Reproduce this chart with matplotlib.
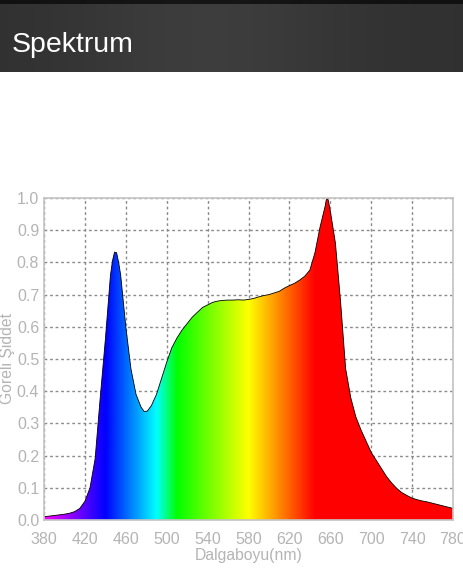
import numpy as np
import matplotlib
matplotlib.use('Agg')
import matplotlib.pyplot as plt
from matplotlib.patches import Polygon

plt.rcParams['font.family'] = ['Liberation Sans', 'DejaVu Sans']

## spectrum (relative intensity)
wl = [380, 385, 390, 395, 400, 405, 410, 415, 420, 425, 430, 435, 440, 445, 447,
      449, 451, 453, 455, 460, 465, 470, 475, 478, 481, 485, 490, 495, 500, 505,
      510, 515, 520, 525, 530, 535, 540, 545, 550, 555, 560, 565, 570, 575, 580,
      585, 590, 595, 600, 605, 610, 615, 620, 625, 630, 635, 640, 645, 650, 655,
      656, 657, 658, 660, 665, 670, 675, 680, 685, 690, 695, 700, 705, 710, 715,
      720, 725, 730, 735, 740, 745, 750, 755, 760, 765, 770, 775, 780]
rel = [0.010, 0.012, 0.014, 0.016, 0.018, 0.021, 0.026, 0.036, 0.058, 0.10, 0.19, 0.38, 0.56, 0.76, 0.805,
       0.832, 0.83, 0.80, 0.76, 0.60, 0.47, 0.39, 0.35, 0.337, 0.338, 0.355, 0.39, 0.44, 0.49, 0.535,
       0.565, 0.59, 0.61, 0.63, 0.645, 0.66, 0.668, 0.676, 0.68, 0.682, 0.683, 0.683, 0.684, 0.683, 0.685,
       0.688, 0.693, 0.697, 0.70, 0.705, 0.71, 0.72, 0.728, 0.735, 0.745, 0.757, 0.776, 0.83, 0.91, 0.975,
       0.993, 1.0, 0.993, 0.96, 0.86, 0.68, 0.47, 0.38, 0.32, 0.28, 0.245, 0.21, 0.185, 0.16, 0.135,
       0.115, 0.098, 0.085, 0.076, 0.068, 0.063, 0.059, 0.056, 0.052, 0.048, 0.044, 0.040, 0.036]

xticks = [380, 420, 460, 500, 540, 580, 620, 660, 700, 740, 780]
yticks = [0.0, 0.1, 0.2, 0.3, 0.4, 0.5, 0.6, 0.7, 0.8, 0.9, 1.0]


def wl_rgb(w):
    # simple visible-spectrum colour map
    if w < 440:
        r, g, b = (440 - w) / 60.0, 0.0, 1.0
    elif w < 490:
        r, g, b = 0.0, (w - 440) / 50.0, 1.0
    elif w < 510:
        r, g, b = 0.0, 1.0, (510 - w) / 20.0
    elif w < 580:
        r, g, b = (w - 510) / 70.0, 1.0, 0.0
    elif w < 645:
        r, g, b = 1.0, (645 - w) / 65.0, 0.0
    else:
        r, g, b = 1.0, 0.0, 0.0
    return [min(max(r, 0), 1), min(max(g, 0), 1), min(max(b, 0), 1)]


fig = plt.figure(figsize=(4.64, 5.77), dpi=100)
fig.patch.set_facecolor('white')

## top title bar
H = 577.0
bar = fig.add_axes([0, 1 - 72 / H, 1, 72 / H])
cols = np.linspace(0, 1, 200)
horiz = 0.19 + 0.05 * np.exp(-((cols - 0.45) / 0.3) ** 2)
rows = np.linspace(0, 1, 72)
vert = np.where(rows < 5 / 72., 0.35, 1.0)[:, None]
shade = horiz[None, :] * vert
bar.imshow(np.dstack([shade, shade, shade]), aspect='auto', extent=[0, 1, 0, 1])
bar.set_axis_off()
bar.text(12 / 464., 20 / 72., 'Spektrum', color='white', fontsize=20.5,
         transform=bar.transAxes, va='baseline', ha='left')

## spectrum plot
ax = fig.add_axes([44 / 464., (577 - 520) / H, (453 - 44) / 464., (520 - 198) / H])
ax.set_xlim(380, 780)
ax.set_ylim(0, 1.0)

grad_x = np.linspace(380, 780, 800)
grad = np.array([wl_rgb(w) for w in grad_x])[None, :, :]
im = ax.imshow(grad, aspect='auto', extent=[380, 780, 0, 1], zorder=2,
               interpolation='bilinear')
verts = [(380, 0)] + list(zip(wl, rel)) + [(780, 0)]
poly = Polygon(verts, closed=True, facecolor='none', edgecolor='none')
ax.add_patch(poly)
im.set_clip_path(poly)
ax.plot(wl, rel, color='black', lw=0.6, zorder=3)

ax.set_xticks(xticks)
ax.set_yticks(yticks)
ax.set_yticklabels(['{:.1f}'.format(v) for v in yticks])
ax.grid(True, color='#8a8a8a', linestyle=(0, (2, 2)), lw=1.0, zorder=1)
ax.set_axisbelow(True)
for s in ax.spines.values():
    s.set_color('#c4c4c4')
    s.set_linewidth(1.2)
    s.set_zorder(4)
ax.tick_params(length=0, labelsize=11.5, labelcolor='#b4b4b4')
ax.tick_params(axis='x', pad=8.5)
ax.tick_params(axis='y', pad=3.5)
ax.set_xlabel('Dalgaboyu(nm)', fontsize=11.3, color='#b4b4b4', labelpad=1)
ax.set_ylabel('Göreli Şiddet', fontsize=11.3, color='#b4b4b4')
ax.yaxis.set_label_coords(-0.071, 0.5)

plt.savefig('out.png', dpi=100)
plt.close()
